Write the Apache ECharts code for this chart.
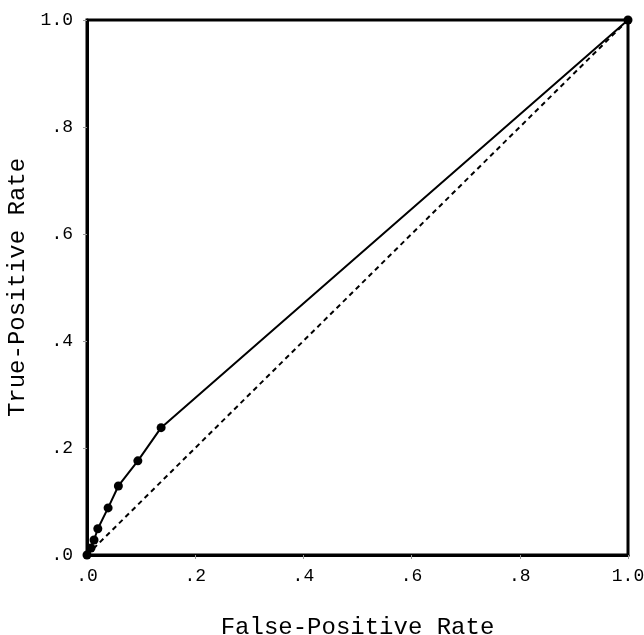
<!DOCTYPE html>
<html><head><meta charset="utf-8">
<script src="https://cdn.jsdelivr.net/npm/echarts@6/dist/echarts.min.js"></script>
<style>html,body{margin:0;padding:0;background:#fff}#c{width:644px;height:635px}</style>
</head><body><div id="c"></div>
<script>
const fpr = [0, 0.0074, 0.013, 0.020, 0.039, 0.058, 0.094, 0.137, 1.0];
const tpr = [0, 0.013, 0.028, 0.049, 0.088, 0.129, 0.176, 0.238, 1.0];
const chanceX = [0, 1];
const chanceY = [0, 1];
const tickLabels = {0: '.0', 0.2: '.2', 0.4: '.4', 0.6: '.6', 0.8: '.8', 1: '1.0'};
const FONT = "'Courier New', 'Liberation Mono', monospace";
const fmt = v => tickLabels[Math.round(v*10)/10] !== undefined ? tickLabels[Math.round(v*10)/10] : '';
const chart = echarts.init(document.getElementById('c'));
chart.setOption({
  backgroundColor: '#fff',
  animation: false,
  grid: {left: 87, right: 16, top: 20, bottom: 80, containLabel: false, outerBoundsMode: 'none',
         show: true, borderColor: '#000', borderWidth: 3},
  xAxis: {
    type: 'value', min: 0, max: 1, interval: 0.2,
    name: 'False-Positive Rate', nameLocation: 'middle', nameGap: 61,
    nameTextStyle: {fontFamily: FONT, fontSize: 24, color: '#000'},
    axisLine: {show: true, lineStyle: {color: '#000', width: 3}},
    axisTick: {show: true, length: 4, lineStyle: {color: '#999', width: 1}},
    axisLabel: {formatter: fmt, fontFamily: FONT, fontSize: 18, color: '#000', margin: 12},
    splitLine: {show: false}
  },
  yAxis: {
    type: 'value', min: 0, max: 1, interval: 0.2,
    name: 'True-Positive Rate', nameLocation: 'middle', nameGap: 56,
    nameTextStyle: {fontFamily: FONT, fontSize: 24, color: '#000'},
    axisLine: {show: true, lineStyle: {color: '#000', width: 3}},
    axisTick: {show: true, length: 4, lineStyle: {color: '#999', width: 1}},
    axisLabel: {formatter: fmt, fontFamily: FONT, fontSize: 18, color: '#000', margin: 14},
    splitLine: {show: false}
  },
  series: [
    {
      type: 'line', data: chanceX.map((x, i) => [x, chanceY[i]]),
      showSymbol: false, lineStyle: {color: '#000', width: 2, type: [5, 4]}, z: 2
    },
    {
      type: 'line', data: fpr.map((x, i) => [x, tpr[i]]),
      symbol: 'circle', symbolSize: 9, itemStyle: {color: '#000'},
      lineStyle: {color: '#000', width: 2}, z: 3
    }
  ]
});
</script></body></html>
